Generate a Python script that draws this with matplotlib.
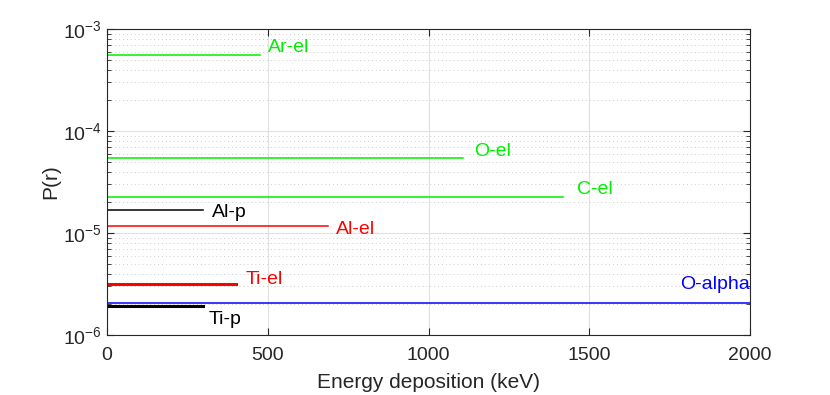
import matplotlib.pyplot as plt
from matplotlib.ticker import LogLocator, NullFormatter

plt.rcParams["font.family"] = ["Liberation Sans", "DejaVu Sans"]

names = ["Ar-el", "O-el", "C-el", "Al-p", "Al-el", "Ti-el", "O-alpha", "Ti-p"]
x_end = [476, 1107, 1418, 300, 687, 400, 2000, 300]
prob = [5.55e-4, 5.43e-5, 2.25e-5, 1.68e-5, 1.17e-5, 3.16e-6, 2.06e-6, 1.92e-6]
colors = ["#00ee00", "#00ee00", "#00ee00", "black", "red", "red", "blue", "black"]
widths = [1.1, 1.1, 1.1, 1.1, 1.1, 2.2, 1.1, 2.2]

# label offsets from the line end, in pixels (dx, dy)
label_off = [(8, 8), (11, 7), (14, 8), (9, -2), (8, -3), (10, 5), (0, 18), (5, -13)]

fig = plt.figure(figsize=(8.3, 3.95), dpi=100)
ax = fig.add_axes([107 / 830, 60 / 395, 643 / 830, 306 / 395])

for name, xe, p, c, w, off in zip(names, x_end, prob, colors, widths, label_off):
    ax.plot([0, xe], [p, p], color=c, linewidth=w)
    ha = "right" if name == "O-alpha" else "left"
    ax.annotate(name, (xe, p), xytext=off, textcoords="offset pixels",
                color=c, fontsize=14, ha=ha, va="center")

ax.set_yscale("log")
ax.set_xlim(0, 2000)
ax.set_ylim(1e-6, 1e-3)
ax.set_xticks([0, 500, 1000, 1500, 2000])
ax.yaxis.set_minor_locator(LogLocator(base=10, subs=range(2, 10)))
ax.yaxis.set_minor_formatter(NullFormatter())

ax.grid(True, which="major", color="#e0e0e0", linewidth=0.8)
ax.grid(True, which="minor", axis="y", color="#cccccc", linestyle=(0, (1, 3)), linewidth=0.7)
ax.set_axisbelow(True)

ax.tick_params(which="both", direction="in", top=True, right=True, colors="#262626",
               labelsize=14)
ax.tick_params(which="major", length=5)
ax.tick_params(which="minor", length=3)
ax.tick_params(axis="x", which="major", pad=9)
for s in ax.spines.values():
    s.set_color("#262626")
    s.set_linewidth(0.8)

ax.set_xlabel("Energy deposition (keV)", fontsize=15, color="#262626", labelpad=6)
ax.set_ylabel("P(r)", fontsize=15, color="#262626", labelpad=2)

fig.savefig("out.png", dpi=100)
